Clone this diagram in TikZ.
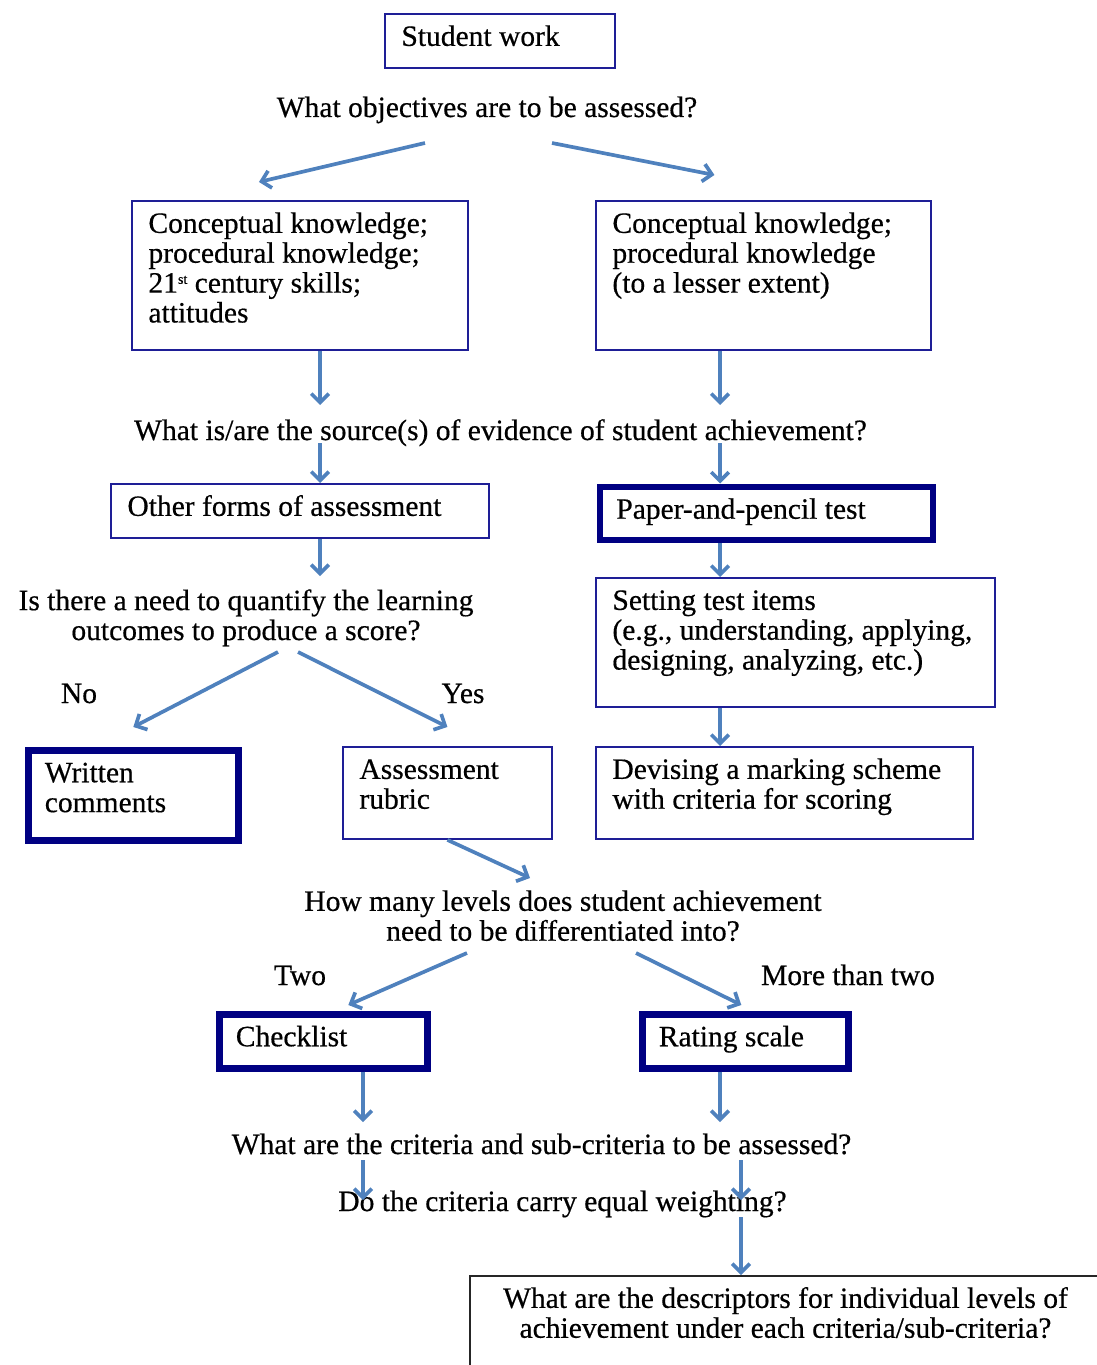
\documentclass[tikz,border=0pt]{standalone}
\usepackage{fontspec}
\setmainfont{Liberation Serif}[FakeBold=0.5]
\usetikzlibrary{arrows.meta,calc}
\definecolor{boxblue}{RGB}{30,30,150}
\definecolor{navyblue}{RGB}{0,0,130}
\definecolor{flowblue}{RGB}{79,129,189}
\newlength\pxu \setlength\pxu{0.02cm}
% text block of a box: width and height in px, text starts top left
\newcommand\boxtext[4][\raggedright]{\parbox[t][\dimexpr#3\pxu-22\pxu\relax][t]{\dimexpr#2\pxu-33\pxu\relax}{#1\strut#4}}
\newcommand\ordsup[1]{\raisebox{5pt}{\fontsize{8}{8}\selectfont#1}}
\tikzset{
  box/.style={draw=boxblue,line width=1.1pt,inner xsep=0.33cm,inner ysep=0.22cm,anchor=north west},
  thickbox/.style={box,draw=navyblue,line width=3.8pt},
  ques/.style={inner sep=0pt,anchor=base},
  flow/.style={draw=flowblue,line width=2.1pt,-{Straight Barb[length=5pt,width=10pt]}}
}
\begin{document}
\begin{tikzpicture}[x=0.02cm,y=-0.02cm,font=\fontsize{16.8}{17}\selectfont]
  \useasboundingbox (0,0) rectangle (1096,1365);
  \path (320,0) coordinate (colL) (720,0) coordinate (colR) (363,0) coordinate (colC) (741,0) coordinate (colD);
  % boxes
  \node[box] (work) at (384,13) {\boxtext{230}{54}{Student work}};
  \node[box] (know) at (131,200) {\boxtext{336}{149}{Conceptual knowledge;\\ procedural knowledge;\\ 21\ordsup{st} century skills;\\ attitudes}};
  \node[box] (proc) at (595,200) {\boxtext{335}{149}{Conceptual knowledge;\\ procedural knowledge\\ (to a lesser extent)}};
  \node[box] (other) at (110,483) {\boxtext{378}{54}{Other forms of assessment}};
  \node[thickbox] (paper) at (596.5,483.5) {\boxtext{333}{53}{Paper-and-pencil test}};
  \node[box] (items) at (595,577) {\boxtext{399}{129}{Setting test items\\ (e.g., understanding, applying,\\ designing, analyzing, etc.)}};
  \node[box] (mark) at (595,746) {\boxtext{377}{92}{Devising a marking scheme\\ with criteria for scoring}};
  \node[thickbox] (written) at (25,747) {\boxtext{210}{90}{Written\\ comments}};
  \node[box] (rubric) at (342,746) {\boxtext{209}{92}{Assessment\\ rubric}};
  \node[thickbox] (check) at (216,1011) {\boxtext{208}{54}{Checklist}};
  \node[thickbox] (rate) at (639,1011) {\boxtext{206}{54}{Rating scale}};
  \node[box,draw=black!85] (descr) at (469,1275) {\boxtext[\centering]{631}{120}{What are the descriptors for individual levels of\\ achievement under each criteria/sub-criteria?}};
  % questions and labels
  \node[ques] (obj) at (487,117) {What objectives are to be assessed?};
  \node[ques] (src) at (500.5,440) {What is/are the source(s) of evidence of student achievement?};
  \node[ques,anchor=north,align=center] (quant) at (246,589) {Is there a need to quantify the learning\\ outcomes to produce a score?};
  \node[ques,anchor=north,align=center] (lev) at (563,890) {How many levels does student achievement\\ need to be differentiated into?};
  \node[ques] (crit) at (541.5,1154) {What are the criteria and sub-criteria to be assessed?};
  \node[ques] (wgt) at (562.5,1211) {Do the criteria carry equal weighting?};
  \node[ques] (no) at (79,703) {No};
  \node[ques] (yes) at (463,703) {Yes};
  \node[ques] (two) at (300,985) {Two};
  \node[ques] (more) at (848,985) {More than two};
  % arrows
  \draw[flow] ($(obj.base)+(-62,26)$) -- ($(know.north)+(-41,-18)$);
  \draw[flow] ($(obj.base)+(65,26)$) -- ($(proc.north)+(-49,-25)$);
  \draw[flow] (know.south-|colL) -- ($(src.base-|colL)+(0,-35)$);
  \draw[flow] (proc.south-|colR) -- ($(src.base-|colR)+(0,-35)$);
  \draw[flow] ($(src.base-|colL)+(0,3)$) -- (other.north-|colL);
  \draw[flow] ($(src.base-|colR)+(0,3)$) -- (paper.north-|colR);
  \draw[flow] (other.south-|colL) -- ($(quant.north-|colL)+(0,-13)$);
  \foreach \a/\b in {paper/items,items/mark}
    \draw[flow] (\a.south-|colR) -- (\b.north-|colR);
  \draw[flow] ($(quant.north)+(32,63)$) -- ($(written.north)+(0,-20)$);
  \draw[flow] ($(quant.north)+(52,63)$) -- ($(rubric.north)+(0,-19)$);
  \draw[flow] (rubric.south) -- ($(lev.north)+(-33,-12)$);
  \draw[flow] ($(lev.north)+(-96,63)$) -- ($(check.north)+(25,-6)$);
  \draw[flow] ($(lev.north)+(73,63)$) -- ($(rate.north)+(-4,-6)$);
  \draw[flow] (check.south-|colC) -- ($(crit.base-|colC)+(0,-32)$);
  \draw[flow] (rate.south-|colR) -- ($(crit.base-|colR)+(0,-32)$);
  \foreach \c in {colC,colD}
    \draw[flow] ($(crit.base-|\c)+(0,6)$) -- ($(wgt.base-|\c)+(0,-11)$);
  \draw[flow] ($(wgt.base-|colD)+(0,6)$) -- (descr.north-|colD);
\end{tikzpicture}
\end{document}
